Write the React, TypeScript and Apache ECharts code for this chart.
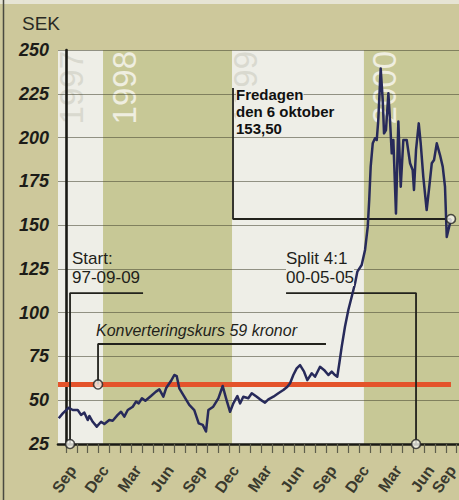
import { useEffect, useRef } from "react";
import * as echarts from "echarts";

// x values are months counted from the September 1997 tick (Sep 97 tick = 0)
const xMin = -0.74;
const xMax = 36.22;
const tickMonths = [0,1,2,3,4,5,6,7,8,9,10,11,12,13,14,15,16,17,18,19,20,21,22,23,24,25,26,27,28,29,30,31,32,33,34,35,36];
const labelMonths = [0.6, 3.6, 6.6, 9.6, 12.6, 15.6, 18.6, 21.6, 24.6, 27.6, 30.6, 33.6, 35.6];
const monthNames = ["Sep", "Dec", "Mar", "Jun"];

const yearNames = ["1997", "1998", "1999", "2000"];
const yearStarts = [-0.74, 3.42, 15.3, 27.46];
const yearEnds = [3.42, 15.3, 27.46, 36.22];

const priceMonths = [
  -0.67, -0.3, 0.25, 0.62, 1.08, 1.38, 1.69, 2.0, 2.15, 2.46,
  2.83, 3.23, 3.53, 3.99, 4.3, 4.76, 5.07, 5.37, 5.69, 6.15,
  6.45, 6.7, 7.0, 7.31, 7.83, 8.29, 8.6, 8.97, 9.22, 9.68,
  9.98, 10.2, 10.44, 10.9, 11.36, 11.82, 12.23, 12.6, 12.9, 13.12,
  13.57, 14.04, 14.44, 14.75, 15.12, 15.42, 15.79, 16.04, 16.34, 16.8,
  17.12, 17.58, 17.88, 18.34, 18.65, 19.11, 19.57, 20.03, 20.4, 20.65,
  20.95, 21.26, 21.57, 21.94, 22.24, 22.65, 22.95, 23.41, 23.78, 24.18,
  24.49, 24.79, 25.0, 25.19, 25.41, 25.71, 26.02, 26.33, 26.64, 26.85,
  27.25, 27.56, 27.81, 27.95, 28.08, 28.27, 28.48, 28.64, 28.78, 29.0,
  29.19, 29.31, 29.49, 29.71, 29.86, 30.02, 30.17, 30.41, 30.63, 30.85,
  31.09, 31.4, 31.71, 31.95, 32.07, 32.26, 32.51, 32.69, 32.93, 33.24,
  33.48, 33.71, 33.92, 34.17, 34.47, 34.72, 34.93, 35.09, 35.48,
];
const priceValues = [
  39.7, 42.5, 45.7, 44.4, 44.4, 41.6, 42.9, 38.7, 41.0, 37.7,
  34.9, 37.7, 36.4, 38.7, 38.3, 41.6, 43.4, 40.6, 44.4, 46.3,
  49.2, 48.2, 51.1, 49.7, 52.4, 54.9, 56.2, 52.0, 56.8, 61.1,
  64.4, 63.8, 56.8, 52.0, 47.3, 44.4, 36.8, 35.9, 32.1, 44.4,
  46.3, 51.1, 58.1, 51.1, 43.4, 48.2, 52.4, 48.2, 52.0, 51.1,
  54.0, 52.0, 50.5, 48.6, 50.5, 52.0, 54.0, 55.8, 57.7, 59.7,
  64.4, 68.2, 70.1, 66.3, 61.5, 65.4, 63.4, 69.1, 67.3, 64.4,
  66.3, 64.4, 63.4, 71.1, 80.6, 92.0, 101.5, 109.1, 116.8, 123.4,
  127.2, 135.8, 149.1, 165.0, 183.4, 196.7, 199.6, 198.6, 210.0, 239.5,
  221.4, 202.4, 204.3, 225.3, 210.0, 191.0, 198.6, 156.7, 209.1, 171.9,
  198.6, 198.6, 185.3, 181.5, 170.1, 192.9, 208.1, 196.7, 177.6, 158.6,
  171.9, 185.3, 187.2, 196.7, 190.0, 183.4, 171.9, 143.2, 153.5,
];

const conversionRate = 59;
const conversionLine = [[-0.74, conversionRate], [35.48, conversionRate]];

// annotation leaders (data coordinates)
const startLeader = [[0.37, 25], [0.37, 111.2], [7.1, 111.2]];
const rateLeader = [[2.95, conversionRate], [2.95, 82.1], [23.96, 82.1]];
const splitLeader = [[20.28, 111.2], [32.26, 111.2], [32.26, 25]];
const fridayLeader = [[15.39, 228.3], [15.39, 153.5], [35.48, 153.5]];
const markerPoints = [[0.37, 25], [2.95, conversionRate], [32.26, 25], [35.48, 153.5]];

const FONT = "'Liberation Sans', Arial, Helvetica, sans-serif";
const OUTER = "#cdc89b";
const OLIVE = "#c7c896";
const WHITE = "#eeeee7";
const bandColors = [WHITE, OLIVE, WHITE, OLIVE];
const yearTextColors = ["#d9d9cf", "#efeee0", "#d9d9cf", "#efeee0"];

export default function App() {
  const ref = useRef<HTMLDivElement>(null);

  useEffect(() => {
    if (!ref.current) return;
    const chart = echarts.init(ref.current, null, { renderer: "svg" });

    const leader = (data: number[][]) => ({
      type: "line",
      data,
      symbol: "none",
      z: 4,
      silent: true,
      lineStyle: { color: "#22221c", width: 1.8 },
    });

    chart.setOption({
      animation: false,
      backgroundColor: OUTER,
      grid: { left: 58, top: 50, right: 0, bottom: 56, containLabel: false, outerBoundsMode: "none" },
      xAxis: {
        type: "value",
        min: xMin,
        max: xMax,
        axisLine: { show: true, onZero: false, lineStyle: { color: "#1a1a15", width: 2.6 } },
        axisTick: {
          show: true,
          customValues: tickMonths,
          length: 9,
          lineStyle: { color: "#5e5e4c", width: 1.2 },
        },
        axisLabel: {
          customValues: labelMonths,
          rotate: 55,
          margin: 23,
          fontSize: 16,
          fontWeight: "bold",
          fontFamily: FONT,
          color: "#3a3a2e",
          showMaxLabel: true,
          formatter: (v: number) => monthNames[Math.round((v - 0.6) / 3) % 4],
        },
        splitLine: { show: false },
      },
      yAxis: {
        type: "value",
        min: 25,
        max: 250,
        interval: 25,
        axisLine: { show: true, lineStyle: { color: "#1a1a15", width: 2.6 } },
        axisTick: { show: false },
        axisLabel: {
          margin: 9,
          fontSize: 18,
          fontWeight: "bold",
          fontStyle: "italic",
          fontFamily: FONT,
          color: "#1c1c18",
        },
        splitLine: { show: true, lineStyle: { color: "rgba(70,70,50,0.55)", width: 1 } },
      },
      series: [
        {
          type: "line",
          name: "Konverteringskurs",
          data: conversionLine,
          symbol: "none",
          z: 3,
          lineStyle: { color: "#e4532b", width: 5 },
        },
        {
          type: "line",
          name: "SEK",
          data: priceMonths.map((m, i) => [m, priceValues[i]]),
          symbol: "none",
          z: 5,
          lineStyle: { color: "#272a5a", width: 2.5, join: "round" },
        },
        leader(startLeader),
        leader(rateLeader),
        leader(splitLeader),
        leader(fridayLeader),
        {
          type: "scatter",
          data: markerPoints,
          symbol: "circle",
          symbolSize: 9,
          clip: false,
          z: 10,
          itemStyle: { color: "#f4f4ee", borderColor: "#222", borderWidth: 1.6 },
        },
      ],
    });

    const px = (v: number) => chart.convertToPixel({ xAxisIndex: 0 }, v) as number;
    const py = (v: number) => chart.convertToPixel({ yAxisIndex: 0 }, v) as number;
    const top = py(250);
    const bottom = py(25);

    const bands = yearNames.map((_, i) => ({
      type: "rect",
      z: -10,
      silent: true,
      shape: { x: px(yearStarts[i]), y: top, width: px(yearEnds[i]) - px(yearStarts[i]), height: bottom - top },
      style: { fill: bandColors[i] },
    }));
    const yearOffsets = [-3, 5, -3, 4];
    const years = yearNames.map((name, i) => ({
      type: "text",
      z: -5,
      silent: true,
      x: px(yearStarts[i]) + yearOffsets[i],
      y: top + 1,
      rotation: Math.PI / 2,
      style: {
        text: name,
        fontSize: 33,
        fontFamily: FONT,
        fill: yearTextColors[i],
        align: "right",
        verticalAlign: "top",
      },
    }));

    const txt = (text: string, x: number, y: number, extra: any = {}) => ({
      type: "text",
      z: 20,
      silent: true,
      x,
      y,
      style: {
        text,
        fontFamily: FONT,
        fontSize: 17,
        fill: "#1f1f1a",
        align: "left",
        verticalAlign: "top",
        ...extra,
      },
    });

    chart.setOption({
      graphic: [
        ...bands,
        ...years,
        { type: "rect", z: -10, silent: true, shape: { x: 0, y: 0, width: 459, height: 4 }, style: { fill: "#e6e4d4" } },
        { type: "line", z: 30, silent: true, shape: { x1: 3.5, y1: 0, x2: 3.5, y2: 500 }, style: { stroke: "#4a4a40", lineWidth: 1.5 } },
        txt("SEK", 22, 14, { fontSize: 19, fill: "#2a2a24" }),
        txt("Start:", 72, 250),
        txt("97-09-09", 72, 269),
        txt("Split 4:1", 286, 250, { backgroundColor: WHITE }),
        txt("00-05-05", 286, 269, { backgroundColor: WHITE }),
        txt("Konverteringskurs 59 kronor", 96, 322, { fontSize: 16, fontStyle: "italic" }),
        txt("Fredagen", 236, 86, { fontSize: 15, fontWeight: "bold", fill: "#111", backgroundColor: WHITE, lineHeight: 17 }),
        txt("den 6 oktober", 236, 103, { fontSize: 15, fontWeight: "bold", fill: "#111", backgroundColor: WHITE, lineHeight: 17 }),
        txt("153,50", 236, 120, { fontSize: 15, fontWeight: "bold", fill: "#111", backgroundColor: WHITE, lineHeight: 17 }),
      ],
    });

    return () => chart.dispose();
  }, []);

  return (
    <div
      ref={ref}
      style={{ position: "absolute", left: 0, top: 0, width: 459, height: 500, background: OUTER }}
    />
  );
}
